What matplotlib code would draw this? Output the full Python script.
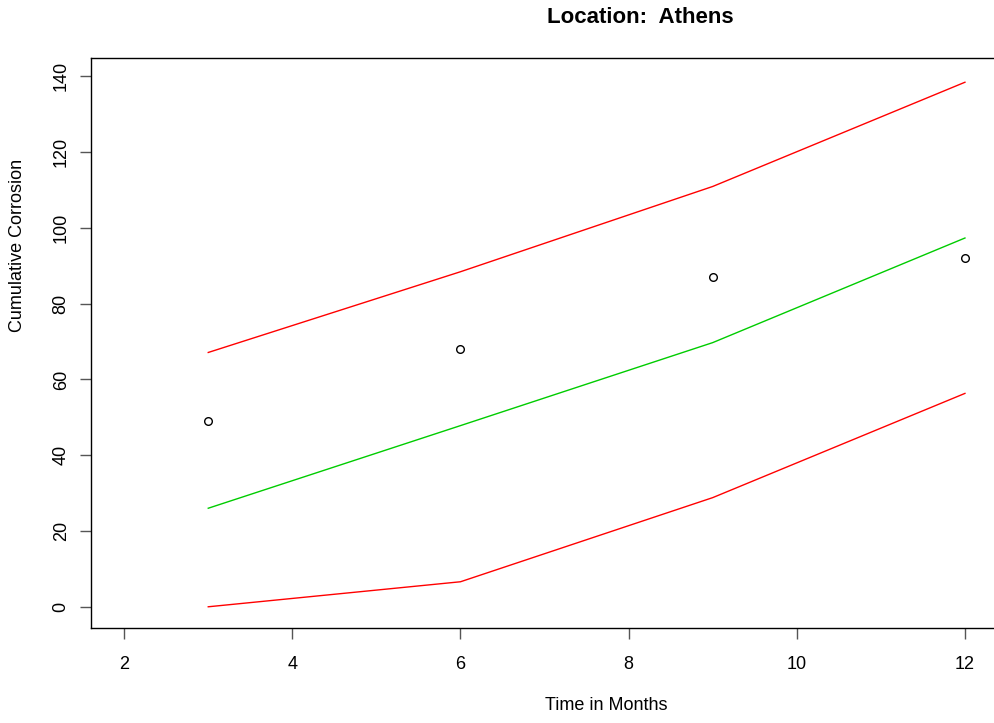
import matplotlib
matplotlib.use("Agg")
import matplotlib.pyplot as plt

plt.rcParams['font.family'] = ['Liberation Sans', 'DejaVu Sans']

months = [3, 6, 9, 12]
observed = [49, 68, 87, 92]
fitted = [26, 47.8, 69.7, 97.3]
upper = [67.1, 88.4, 110.9, 138.4]
lower = [0, 6.6, 28.8, 56.3]

xticks = [2, 4, 6, 8, 10, 12]
yticks = [0, 20, 40, 60, 80, 100, 120, 140]

fig = plt.figure(figsize=(9.95, 7.23), dpi=100)
ax = fig.add_axes([0.0910, 0.1314, 0.9126, 0.7884])

ax.plot(months, observed, 'o', mfc='none', mec='black', ms=5.5, mew=1.0)
ax.plot(months, fitted, color='#00cc00', lw=1.0)
ax.plot(months, upper, color='#ff0000', lw=1.0)
ax.plot(months, lower, color='#ff0000', lw=1.0)

ax.set_xlim(1.6, 12.4)
ax.set_ylim(-5.6, 144.8)
ax.set_xticks(xticks)
ax.set_yticks(yticks)
ax.set_yticklabels([str(v) for v in yticks], rotation=90, va='center')
ax.tick_params(axis='both', direction='out', length=8, width=1.0,
               color='#555555', labelsize=13)
ax.tick_params(axis='x', pad=12)
ax.tick_params(axis='y', pad=7)
for s in ax.spines.values():
    s.set_linewidth(1.0)
ax.spines['right'].set_visible(False)

fig.text(640 / 995, 1 - 17.5 / 723, "Location:  Athens", ha='center', va='center',
         fontsize=16, fontweight='bold')
fig.text(606 / 995, 1 - 706 / 723, "Time in Months", ha='center', va='center',
         fontsize=13)
fig.text(18 / 995, 1 - 245 / 723, "Cumulative Corrosion", ha='center', va='center',
         rotation=90, fontsize=13)

fig.savefig("out.png", dpi=100)
